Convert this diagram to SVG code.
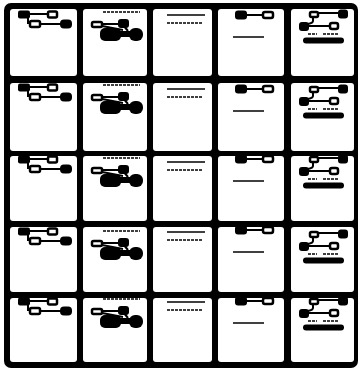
<svg xmlns="http://www.w3.org/2000/svg" width="360" height="369" viewBox="0 0 360 369">
<style>
.cell{fill:#fff}
.blk{fill:#000}
.wb{fill:#fff;stroke:#000;stroke-width:2.5}
.ln{stroke:#000;stroke-width:2;fill:none}
.tx{stroke:#000;stroke-width:1.3;stroke-dasharray:3 1;fill:none}
.tx2{stroke:#000;stroke-width:1.5;fill:none}
</style>
<defs>
<g id="t1">
<rect class="blk" x="8" y="1.5" width="12" height="8" rx="2"/>
<path class="ln" d="M19 5H38"/>
<rect class="wb" x="38" y="2.5" width="9" height="6" rx="1.5"/>
<path class="ln" d="M18 8V14H20"/>
<rect class="wb" x="20" y="12" width="10" height="6" rx="1.5"/>
<path class="ln" d="M30 15H52"/>
<rect class="blk" x="50" y="10.5" width="12" height="9" rx="4"/>
</g>
<g id="t2">
<path class="tx" d="M20 3H57"/>
<rect class="wb" x="9" y="13" width="10" height="5" rx="1.5"/>
<path class="ln" d="M19 15H36"/>
<rect class="blk" x="35" y="10" width="11" height="9" rx="3"/>
<path class="ln" d="M19 17L40 21M40 16L45 22"/>
<rect class="blk" x="17" y="19" width="21" height="13" rx="5"/>
<rect class="blk" x="30" y="22" width="24" height="6"/>
<rect class="blk" x="46" y="19" width="14" height="13" rx="6"/>
</g>
<g id="t3">
<path class="tx2" d="M14 6H52"/>
<path class="tx" d="M14 14H50"/>
</g>
<g id="t4">
<rect class="blk" x="17" y="1.5" width="12" height="9" rx="3"/>
<path class="ln" d="M29 6H45"/>
<rect class="wb" x="45" y="3" width="10" height="6" rx="2"/>
<path class="tx2" d="M15 28H46"/>
</g>
<g id="t5">
<rect class="wb" x="19" y="3" width="8" height="5" rx="1.5"/>
<path class="ln" d="M27 4H49M22 8V12Q22 14 17 15"/>
<rect class="blk" x="47" y="0.5" width="10" height="9" rx="3"/>
<rect class="blk" x="8" y="13" width="10" height="9" rx="3"/>
<path class="ln" d="M18 17H39"/>
<rect class="wb" x="39" y="14" width="8" height="6" rx="2"/>
<path class="tx" d="M17 25H26M32 25H47"/>
<rect class="blk" x="12" y="28.5" width="41" height="6" rx="3"/>
</g>
</defs>
<rect class="blk" x="4" y="3" width="354" height="365" rx="7"/>
<g id="grid">
<g id="cell-1-1"><rect class="cell" x="10" y="9" width="67" height="67" rx="3"/><use href="#t1" x="10" y="9"/></g>
<g id="cell-1-2"><rect class="cell" x="83" y="9" width="64" height="67" rx="3"/><use href="#t2" x="83" y="9"/></g>
<g id="cell-1-3"><rect class="cell" x="153" y="9" width="59" height="67" rx="3"/><use href="#t3" x="153" y="9"/></g>
<g id="cell-1-4"><rect class="cell" x="218" y="9" width="66" height="67" rx="3"/><use href="#t4" x="218" y="9"/></g>
<g id="cell-1-5"><rect class="cell" x="291" y="9" width="63" height="67" rx="3"/><use href="#t5" x="291" y="9"/></g>

<g id="cell-2-1"><rect class="cell" x="10" y="83" width="67" height="68" rx="3"/><use href="#t1" x="10" y="82"/></g>
<g id="cell-2-2"><rect class="cell" x="83" y="83" width="64" height="68" rx="3"/><use href="#t2" x="83" y="82"/></g>
<g id="cell-2-3"><rect class="cell" x="153" y="83" width="59" height="68" rx="3"/><use href="#t3" x="153" y="83"/></g>
<g id="cell-2-4"><rect class="cell" x="218" y="83" width="66" height="68" rx="3"/><use href="#t4" x="218" y="83"/></g>
<g id="cell-2-5"><rect class="cell" x="291" y="83" width="63" height="68" rx="3"/><use href="#t5" x="291" y="84"/></g>

<g id="cell-3-1"><rect class="cell" x="10" y="156" width="67" height="65" rx="3"/><use href="#t1" x="10" y="154"/></g>
<g id="cell-3-2"><rect class="cell" x="83" y="156" width="64" height="65" rx="3"/><use href="#t2" x="83" y="155"/></g>
<g id="cell-3-3"><rect class="cell" x="153" y="156" width="59" height="65" rx="3"/><use href="#t3" x="153" y="156"/></g>
<g id="cell-3-4"><rect class="cell" x="218" y="156" width="66" height="65" rx="3"/><use href="#t4" x="218" y="153"/></g>
<g id="cell-3-5"><rect class="cell" x="291" y="156" width="63" height="65" rx="3"/><use href="#t5" x="291" y="154"/></g>

<g id="cell-4-1"><rect class="cell" x="10" y="227" width="67" height="65" rx="3"/><use href="#t1" x="10" y="226"/></g>
<g id="cell-4-2"><rect class="cell" x="83" y="227" width="64" height="65" rx="3"/><use href="#t2" x="83" y="228"/></g>
<g id="cell-4-3"><rect class="cell" x="153" y="227" width="59" height="65" rx="3"/><use href="#t3" x="153" y="226"/></g>
<g id="cell-4-4"><rect class="cell" x="218" y="227" width="66" height="65" rx="3"/><use href="#t4" x="218" y="224"/></g>
<g id="cell-4-5"><rect class="cell" x="291" y="227" width="63" height="65" rx="3"/><use href="#t5" x="291" y="229"/></g>

<g id="cell-5-1"><rect class="cell" x="10" y="298" width="67" height="64" rx="3"/><use href="#t1" x="10" y="296"/></g>
<g id="cell-5-2"><rect class="cell" x="83" y="298" width="64" height="64" rx="3"/><use href="#t2" x="83" y="296"/></g>
<g id="cell-5-3"><rect class="cell" x="153" y="298" width="59" height="64" rx="3"/><use href="#t3" x="153" y="296"/></g>
<g id="cell-5-4"><rect class="cell" x="218" y="298" width="66" height="64" rx="3"/><use href="#t4" x="218" y="295"/></g>
<g id="cell-5-5"><rect class="cell" x="291" y="298" width="63" height="64" rx="3"/><use href="#t5" x="291" y="296"/></g>
</g>
</svg>
